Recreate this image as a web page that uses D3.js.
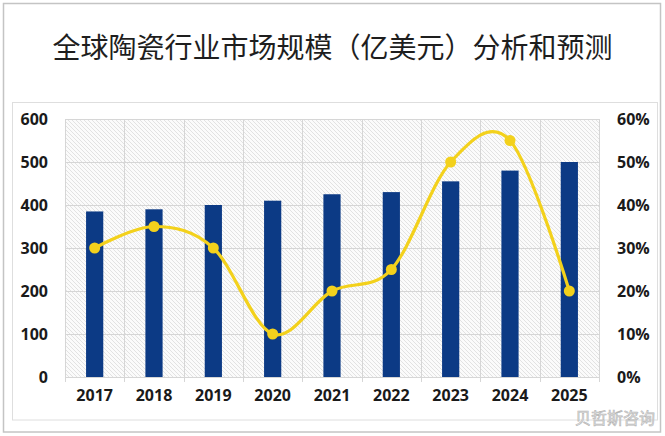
<!DOCTYPE html>
<html>
<head>
<meta charset="utf-8">
<script src="https://cdn.jsdelivr.net/npm/d3@7"></script>
<style>
  html, body { margin: 0; padding: 0; background: #fff; }
  svg { display: block; }
  .tick text { font-family: "Open Sans", "Liberation Sans", sans-serif; font-weight: 700; font-size: 16px; fill: #1a1a1a; }
</style>
</head>
<body>
<div id="chart"></div>
<script>
// === DATA ===
const years = ["2017", "2018", "2019", "2020", "2021", "2022", "2023", "2024", "2025"];
const marketSize = [385, 390, 400, 410, 425, 430, 455, 480, 500];   // 亿美元
const growthRate = [0.30, 0.35, 0.30, 0.10, 0.20, 0.25, 0.50, 0.55, 0.20];
const leftTicks = [0, 100, 200, 300, 400, 500, 600];
const rightTicks = [0, 0.1, 0.2, 0.3, 0.4, 0.5, 0.6];
const titleText = "全球陶瓷行业市场规模（亿美元）分析和预测";

// === LAYOUT ===
const width = 665, height = 436;
const plot = { left: 65, right: 599, top: 119, bottom: 377 };

const svg = d3.select("#chart").append("svg")
    .attr("width", width)
    .attr("height", height);

// hatched background pattern
const defs = svg.append("defs");
const pat = defs.append("pattern")
    .attr("id", "hatch")
    .attr("patternUnits", "userSpaceOnUse")
    .attr("width", 4).attr("height", 4);
pat.append("rect").attr("width", 4).attr("height", 4).attr("fill", "#fbfbfb");
pat.append("path")
    .attr("d", "M-1,-1 L5,5 M-1,3 L1,5 M3,-1 L5,1")
    .attr("stroke", "#dcdcdc")
    .attr("stroke-width", 0.8);

// outer frame + inner chart frame
svg.append("rect")
    .attr("x", 3.5).attr("y", 3.5)
    .attr("width", 657).attr("height", 428.5)
    .attr("fill", "#fff").attr("stroke", "#c4c4c4").attr("stroke-width", 1.5);
svg.append("rect")
    .attr("x", 12.5).attr("y", 102.5)
    .attr("width", 645).attr("height", 317.5)
    .attr("fill", "none").attr("stroke", "#dedede");

// title
svg.append("text")
    .attr("x", 332.5).attr("y", 58)
    .attr("text-anchor", "middle")
    .style("font-family", '"Noto Sans CJK SC", sans-serif')
    .style("font-size", "28px")
    .style("fill", "#1e1e1e")
    .text(titleText);

// === SCALES ===
const x = d3.scaleBand().domain(years).range([plot.left, plot.right]).padding(0);
const y = d3.scaleLinear().domain([0, 600]).range([plot.bottom, plot.top]);
const yR = d3.scaleLinear().domain([0, 0.6]).range([plot.bottom, plot.top]);

// plot background
svg.append("rect")
    .attr("x", plot.left).attr("y", plot.top)
    .attr("width", plot.right - plot.left).attr("height", plot.bottom - plot.top)
    .attr("fill", "url(#hatch)");

// gridlines
svg.append("g").selectAll("line")
    .data(leftTicks)
    .join("line")
    .attr("x1", plot.left).attr("x2", plot.right)
    .attr("y1", d => Math.round(y(d)) + 0.5).attr("y2", d => Math.round(y(d)) + 0.5)
    .attr("stroke", "#d6d6d6");

const bounds = years.map(d => x(d)).concat([plot.right]);
svg.append("g").selectAll("line")
    .data(bounds)
    .join("line")
    .attr("x1", d => Math.round(d) + 0.5).attr("x2", d => Math.round(d) + 0.5)
    .attr("y1", plot.top).attr("y2", plot.bottom + 5)
    .attr("stroke", "#d6d6d6");

// === BARS ===
const barW = x.bandwidth() * 0.29;
svg.append("g").selectAll("rect")
    .data(marketSize)
    .join("rect")
    .attr("x", (d, i) => x(years[i]) + (x.bandwidth() - barW) / 2)
    .attr("y", d => y(d))
    .attr("width", barW)
    .attr("height", d => y(0) - y(d))
    .attr("fill", "#0c3a85");

// === LINE ===
const pts = growthRate.map((d, i) => [x(years[i]) + x.bandwidth() / 2, yR(d)]);
svg.append("path")
    .datum(pts)
    .attr("d", d3.line().curve(d3.curveCardinal.tension(0)))
    .attr("fill", "none")
    .attr("stroke", "#f3d11c")
    .attr("stroke-width", 3.2);

svg.append("g").selectAll("circle")
    .data(pts)
    .join("circle")
    .attr("cx", d => d[0]).attr("cy", d => d[1])
    .attr("r", 5.5)
    .attr("fill", "#f3d11c");

// === AXES ===
const axL = svg.append("g")
    .attr("transform", `translate(${plot.left},0)`)
    .call(d3.axisLeft(y).tickValues(leftTicks).tickSize(0).tickPadding(17));
axL.select(".domain").remove();

const axR = svg.append("g")
    .attr("transform", `translate(${plot.right},0)`)
    .call(d3.axisRight(yR).tickValues(rightTicks).tickFormat(d3.format(".0%")).tickSize(0).tickPadding(18));
axR.select(".domain").remove();

const axB = svg.append("g")
    .attr("transform", `translate(0,${plot.bottom})`)
    .call(d3.axisBottom(x).tickSize(0).tickPadding(13));
axB.select(".domain").remove();

// watermark
svg.append("text")
    .attr("x", 655).attr("y", 424)
    .attr("text-anchor", "end")
    .style("font-family", '"Noto Sans CJK SC", sans-serif')
    .style("font-size", "16px")
    .style("fill", "#e6e6e6")
    .style("stroke", "#b5b5b5")
    .style("stroke-width", 0.6)
    .text("贝哲斯咨询");
</script>
</body>
</html>
